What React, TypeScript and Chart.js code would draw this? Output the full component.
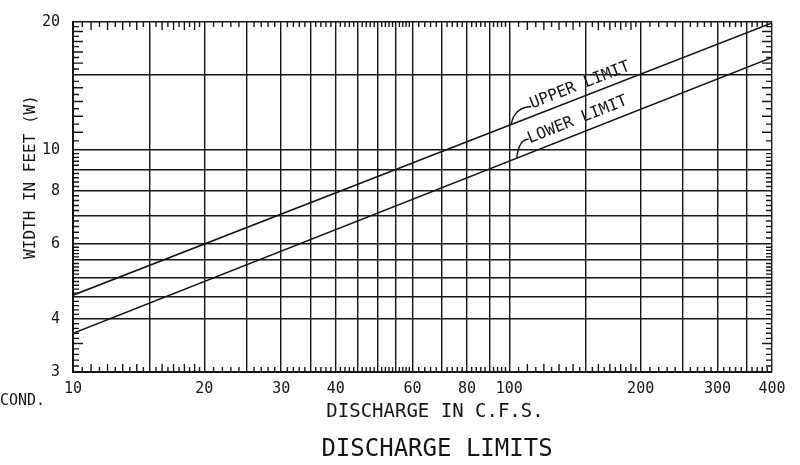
import { useEffect, useRef } from "react";
import { Chart, registerables } from "chart.js";

Chart.register(...registerables);

// ---- data ----
const DISCHARGE = [10, 400]; // C.F.S.
const UPPER_LIMIT = [4.55, 19.9]; // feet
const LOWER_LIMIT = [3.7, 16.5]; // feet

const X_GRID = [10, 15, 20, 25, 30, 35, 40, 45, 50, 55, 60, 70, 80, 90, 100, 150, 200, 250, 300, 350, 400];
const X_LABELS = [10, 20, 30, 40, 60, 80, 100, 200, 300, 400];
const Y_GRID = [3, 4, 4.5, 5, 5.5, 6, 7, 8, 9, 10, 15, 20];
const Y_LABELS = [3, 4, 6, 8, 10, 20];

// minor inward tick segments: [from, to, step, longEvery]
const X_MINOR = [
  [10, 20, 0.5, 1],
  [20, 60, 1, 0],
  [60, 100, 2, 0],
  [100, 200, 5, 10],
  [200, 400, 10, 0],
];
const Y_MINOR = [
  [3, 4, 0.1, 0.5],
  [4, 6, 0.1, 0],
  [6, 10, 0.2, 0],
  [10, 20, 0.5, 1],
];

const LINE_NOTES = [
  { text: "UPPER LIMIT", dataset: 0, at: 101, tx: 21, ty: -16, sx: 20, sy: -18, cx: 3, cy: -17 },
  { text: "LOWER LIMIT", dataset: 1, at: 104, tx: 13, ty: -15, sx: 12, sy: -19, cx: 2, cy: -19 },
];

const INK = "#151515";
const FONT = "'DejaVu Sans Mono', monospace";

function minorTicks(segs: number[][], grid: number[]) {
  const out: { v: number; long: boolean }[] = [];
  for (const [a, b, step, longEvery] of segs) {
    const n = Math.round((b - a) / step);
    for (let i = 1; i < n; i++) {
      const v = Math.round((a + i * step) * 1000) / 1000;
      if (grid.some((g) => Math.abs(g - v) < 1e-6)) continue;
      const long = longEvery > 0 && Math.abs(v / longEvery - Math.round(v / longEvery)) < 1e-6;
      out.push({ v, long });
    }
  }
  return out;
}

const decorPlugin = {
  id: "decor",
  afterDatasetsDraw(chart: any) {
    const { ctx, chartArea: a, scales } = chart;
    const xs = scales.x;
    const ys = scales.y;
    ctx.save();
    ctx.strokeStyle = INK;
    ctx.lineWidth = 1.4;
    ctx.beginPath();
    for (const t of minorTicks(X_MINOR, X_GRID)) {
      const px = xs.getPixelForValue(t.v);
      const len = t.long ? 8 : 5;
      ctx.moveTo(px, a.bottom);
      ctx.lineTo(px, a.bottom - len);
      ctx.moveTo(px, a.top);
      ctx.lineTo(px, a.top + len);
    }
    for (const t of minorTicks(Y_MINOR, Y_GRID)) {
      const py = ys.getPixelForValue(t.v);
      const len = t.long ? 10 : 6;
      ctx.moveTo(a.left, py);
      ctx.lineTo(a.left + len, py);
      ctx.moveTo(a.right, py);
      ctx.lineTo(a.right - len, py);
    }
    ctx.stroke();

    // line annotations
    for (const n of LINE_NOTES) {
      const meta = chart.getDatasetMeta(n.dataset);
      const p0 = meta.data[0];
      const p1 = meta.data[meta.data.length - 1];
      const ang = Math.atan2(p1.y - p0.y, p1.x - p0.x);
      const ax = xs.getPixelForValue(n.at);
      const ay = p0.y + (ax - p0.x) * Math.tan(ang);
      ctx.beginPath();
      ctx.lineWidth = 1.4;
      ctx.moveTo(ax + n.sx, ay + n.sy);
      ctx.quadraticCurveTo(ax + n.cx, ay + n.cy, ax, ay);
      ctx.stroke();
      ctx.save();
      ctx.translate(ax + n.tx, ay + n.ty);
      ctx.rotate(ang);
      ctx.fillStyle = INK;
      ctx.font = `16px ${FONT}`;
      ctx.textAlign = "left";
      ctx.textBaseline = "alphabetic";
      ctx.fillText(n.text, 0, 0);
      ctx.restore();
    }

    // titles
    ctx.fillStyle = INK;
    ctx.textAlign = "center";
    ctx.textBaseline = "middle";
    ctx.font = `19px ${FONT}`;
    ctx.fillText("DISCHARGE IN C.F.S.", 435, 412);
    ctx.font = `24px ${FONT}`;
    ctx.fillText("DISCHARGE LIMITS", 437, 450);
    ctx.font = `15px ${FONT}`;
    ctx.textAlign = "left";
    ctx.fillText("COND.", 0, 401);
    ctx.save();
    ctx.translate(31, 177);
    ctx.rotate(-Math.PI / 2);
    ctx.textAlign = "center";
    ctx.font = `16px ${FONT}`;
    ctx.fillText("WIDTH IN FEET (W)", 0, 0);
    ctx.restore();
    ctx.restore();
  },
};

export default function App() {
  const ref = useRef<HTMLCanvasElement | null>(null);
  useEffect(() => {
    if (!ref.current) return;
    const toPts = (ys: number[]) => DISCHARGE.map((x, i) => ({ x, y: ys[i] }));
    const chart = new Chart(ref.current, {
      type: "line",
      data: {
        datasets: [
          { label: "Upper limit", data: toPts(UPPER_LIMIT), borderColor: INK, borderWidth: 1.6, pointRadius: 0, fill: false, tension: 0 },
          { label: "Lower limit", data: toPts(LOWER_LIMIT), borderColor: INK, borderWidth: 1.6, pointRadius: 0, fill: false, tension: 0 },
        ],
      },
      options: {
        responsive: false,
        animation: false,
        events: [],
        layout: { padding: { top: 15, right: 28, left: 0, bottom: 0 } },
        plugins: { legend: { display: false }, tooltip: { enabled: false } },
        scales: {
          x: {
            type: "logarithmic",
            position: "bottom",
            min: 10,
            max: 400,
            afterBuildTicks: (s: any) => {
              s.ticks = X_GRID.map((v) => ({ value: v }));
            },
            afterFit: (s: any) => {
              s.height = 93;
            },
            ticks: {
              autoSkip: false,
              maxRotation: 0,
              padding: 8,
              color: INK,
              font: { family: FONT, size: 15 },
              callback: (v: any) => (X_LABELS.includes(Number(v)) ? String(v) : ""),
            },
            grid: { color: INK, lineWidth: 1.4, drawTicks: false },
            border: { color: INK, width: 2 },
          },
          y: {
            type: "logarithmic",
            position: "left",
            min: 3,
            max: 20,
            afterBuildTicks: (s: any) => {
              s.ticks = Y_GRID.map((v) => ({ value: v }));
            },
            afterFit: (s: any) => {
              s.width = 73;
            },
            ticks: {
              autoSkip: false,
              padding: 13,
              color: INK,
              font: { family: FONT, size: 15 },
              callback: (v: any) => (Y_LABELS.includes(Number(v)) ? String(v) : ""),
            },
            grid: { color: INK, lineWidth: 1.4, drawTicks: false },
            border: { color: INK, width: 2 },
          },
        },
      },
      plugins: [decorPlugin],
    });
    return () => chart.destroy();
  }, []);
  return (
    <div style={{ position: "absolute", left: 0, top: 0, width: 800, height: 465, background: "#fff" }}>
      <canvas ref={ref} width={800} height={465} style={{ width: 800, height: 465, display: "block" }} />
    </div>
  );
}
